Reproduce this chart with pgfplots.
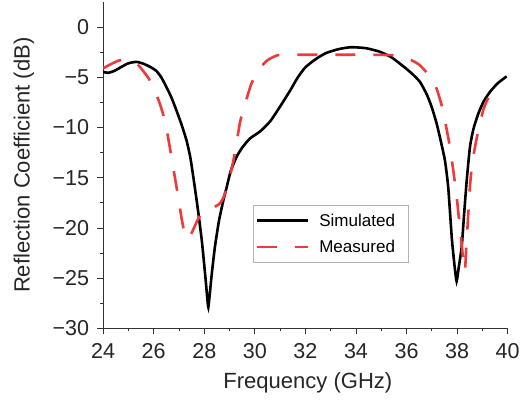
\documentclass[border=0pt]{standalone}
\usepackage{fontspec}
\setmainfont{Liberation Sans}
\usepackage{pgfplots}
\pgfplotsset{compat=1.18}
\definecolor{measred}{RGB}{238,58,58}
\definecolor{axgray}{RGB}{50,50,50}
\begin{document}
\begin{tikzpicture}
\begin{axis}[
  scale only axis,
  width=404pt, height=326pt,
  xmin=24, xmax=40, ymin=-30, ymax=2.5,
  axis x line*=bottom, axis y line*=left,
  axis line style={-, line width=0.9pt, axgray},
  xtick={24,26,...,40},
  ytick={-30,-25,-20,-15,-10,-5,0},
  yticklabels={−30,−25,−20,−15,−10,−5,0},
  minor x tick num=1, minor y tick num=1,
  tick align=outside,
  major tick length=6pt, minor tick length=3pt,
  every tick/.style={line width=0.9pt, axgray},
  /pgf/number format/assume math mode=true,
  tick label style={font=\fontsize{21.5}{21.5}\selectfont, text=black!85},
  yticklabel style={xshift=-4.5pt},
  xticklabel style={yshift=-5pt},
  every axis x label/.style={at={(axis description cs:0.506,-0.184)}, anchor=base,
    font=\fontsize{22}{22}\selectfont, text=black!85},
  every axis y label/.style={at={(axis description cs:-0.182,0.5)}, rotate=90, anchor=base,
    font=\fontsize{22}{22}\selectfont, text=black!85},
  xlabel={Frequency (GHz)},
  ylabel={Reflection Coefficient (dB)},
  legend style={at={(0.371,0.377)}, anchor=north west, draw=gray!60, line width=0.8pt,
    font=\fontsize{17}{17}\selectfont, row sep=8.5pt, inner xsep=2pt, inner ysep=6pt},
  legend cell align=left,
  legend image code/.code={\draw[#1] (0pt,0pt) -- (51pt,0pt); \path (59pt,0pt);},
]
\addplot[black, line width=2.6pt, smooth, tension=0.35] coordinates {
(24.0,-4.46) (24.2,-4.55) (24.45,-4.35) (24.73,-3.95) (25.0,-3.6) (25.32,-3.46)
(25.6,-3.65) (25.85,-3.95) (26.1,-4.35) (26.3,-5.0) (26.5,-5.95) (26.7,-7.0)
(26.9,-8.3) (27.1,-9.7) (27.3,-11.3) (27.45,-13.0) (27.6,-15.5) (27.75,-18.2)
(27.9,-21.2) (28.03,-24.5) (28.12,-27.0) (28.16,-27.9) (28.22,-26.5)
(28.3,-24.5) (28.42,-21.9) (28.58,-19.3) (28.75,-17.3) (28.88,-16.0) (29.05,-14.3)
(29.28,-12.9) (29.5,-12.0) (29.8,-11.1) (30.2,-10.4) (30.6,-9.4) (31.0,-7.9)
(31.4,-6.3) (31.7,-5.0) (32.0,-4.0) (32.4,-3.2) (32.8,-2.6) (33.3,-2.2)
(33.8,-2.0) (34.4,-2.1) (34.95,-2.46) (35.4,-3.0) (35.87,-3.9) (36.2,-4.6)
(36.53,-5.45) (36.8,-6.7) (37.0,-8.0) (37.19,-9.6) (37.35,-11.3) (37.52,-13.3)
(37.65,-16.0) (37.79,-21.0) (37.9,-23.8) (37.98,-25.3) (38.06,-24.0) (38.18,-21.9)
(38.28,-18.5) (38.38,-15.25) (38.51,-11.9) (38.65,-10.1) (38.84,-8.6) (39.05,-7.4)
(39.3,-6.45) (39.6,-5.6) (39.96,-4.9)
};
\addlegendentry{Simulated\rule{9pt}{0pt}}
\addplot[measred, line width=2.6pt, smooth, tension=0.35, dash pattern=on 20pt off 18pt] coordinates {
(24.0,-4.1) (24.3,-3.7) (24.6,-3.35) (24.9,-3.2) (25.25,-3.45) (25.5,-4.1)
(25.8,-5.1) (26.0,-6.1) (26.24,-7.6) (26.45,-9.4) (26.64,-12.0) (26.84,-15.0)
(26.97,-16.9) (27.1,-19.0) (27.23,-20.6) (27.35,-21.1) (27.5,-20.5) (27.7,-19.4)
(27.9,-18.5) (28.16,-18.1) (28.4,-17.9) (28.6,-17.6) (28.75,-17.0) (28.95,-15.6)
(29.15,-13.3) (29.3,-11.2) (29.42,-9.4) (29.62,-7.6) (29.87,-5.6) (30.2,-4.1)
(30.5,-3.3) (30.9,-2.8) (31.5,-2.75) (32.5,-2.75) (33.5,-2.75) (34.5,-2.75)
(35.5,-2.8) (35.9,-3.0) (36.2,-3.3) (36.53,-3.8) (36.99,-5.1) (37.2,-6.2)
(37.39,-7.8) (37.55,-9.7) (37.72,-12.0) (37.9,-15.25) (38.0,-17.3) (38.09,-19.5)
(38.18,-21.6) (38.25,-23.4) (38.31,-24.3) (38.35,-22.5) (38.42,-19.5) (38.51,-15.8)
(38.6,-13.5) (38.78,-11.0) (39.04,-8.2) (39.3,-6.7) (39.5,-6.0)
};
\addlegendentry{Measured\rule{9pt}{0pt}}
\end{axis}
\pgfresetboundingbox
\path[use as bounding box] ([xshift=-103pt,yshift=-75pt]current axis.south west)
  rectangle ([xshift=14.3pt,yshift=2pt]current axis.north east);
\end{tikzpicture}
\end{document}
